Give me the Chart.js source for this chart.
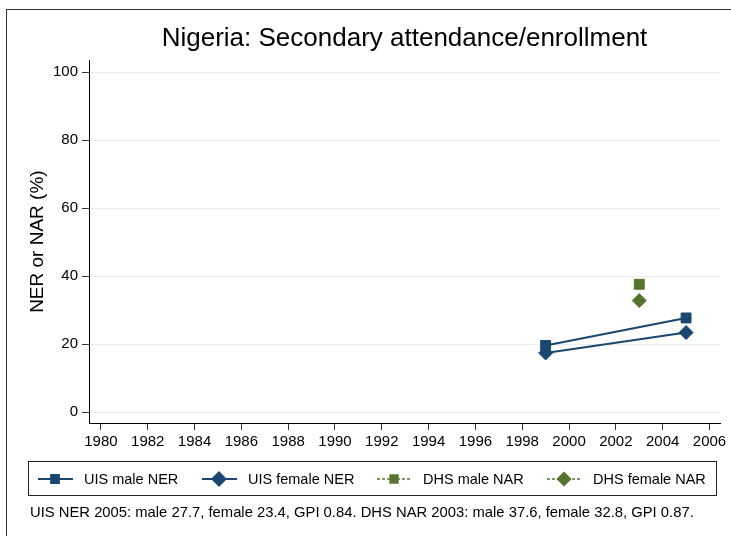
<!DOCTYPE html>
<html>
<head>
<meta charset="utf-8">
<script src="https://cdn.jsdelivr.net/npm/chart.js@4/dist/chart.umd.min.js"></script>
<style>
  html, body { margin: 0; padding: 0; background: #fff; }
  #wrap { width: 731px; height: 536px; position: relative; }
</style>
</head>
<body>
<div id="wrap"><canvas id="myChart" width="731" height="536"></canvas></div>
<script>
// data
const uisYears = [1999, 2005];
const uisMale = [19.6, 27.7];
const uisFemale = [17.4, 23.4];
const dhsYears = [2003];
const dhsMale = [37.6];
const dhsFemale = [32.8];
const xTicks = [1980, 1982, 1984, 1986, 1988, 1990, 1992, 1994, 1996, 1998, 2000, 2002, 2004, 2006];
const yTicks = [0, 20, 40, 60, 80, 100];
const seriesNames = ['UIS male NER', 'UIS female NER', 'DHS male NAR', 'DHS female NAR'];
const noteText = 'UIS NER 2005: male 27.7, female 23.4, GPI 0.84. DHS NAR 2003: male 37.6, female 32.8, GPI 0.87.';

const navy = '#1a476f';
const green = '#55752f';
const FONT = 'Arial, "Liberation Sans", sans-serif';

function pts(xs, ys) { return xs.map((x, i) => ({ x: x, y: ys[i] })); }

// frame, legend box and note
const extras = {
  id: 'extras',
  beforeDraw(chart) {
    const c = chart.ctx;
    c.save();
    c.fillStyle = '#fff';
    c.fillRect(0, 0, chart.width, chart.height);
    c.restore();
  },
  afterDraw(chart) {
    const c = chart.ctx;
    c.save();
    c.strokeStyle = '#333';
    c.lineWidth = 1;
    c.strokeRect(6.5, 9.5, 900, 700);

    // legend box
    c.strokeStyle = '#222';
    c.strokeRect(28.5, 461.5, 688, 34);
    const starts = [38, 202, 377, 547];
    const ly = 479;
    chart.data.datasets.forEach((ds, i) => {
      const x0 = starts[i];
      c.strokeStyle = ds.borderColor;
      c.lineWidth = ds.legendDash ? 1.5 : 2;
      c.setLineDash(ds.legendDash || []);
      c.beginPath();
      c.moveTo(x0, ly);
      c.lineTo(x0 + 35, ly);
      c.stroke();
      c.setLineDash([]);
      c.fillStyle = ds.backgroundColor;
      c.strokeStyle = ds.borderColor;
      Chart.helpers.drawPoint(c, {
        pointStyle: ds.pointStyle,
        radius: ds.pointStyle === 'rect' ? 5.5 : 6.5,
        rotation: 0,
        borderWidth: 1
      }, x0 + 17, ly);
      c.fillStyle = '#000';
      c.font = '14.5px ' + FONT;
      c.textBaseline = 'middle';
      c.textAlign = 'left';
      c.fillText(ds.label, x0 + 46, ly + 1);
    });

    c.fillStyle = '#000';
    c.font = '14.8px ' + FONT;
    c.textBaseline = 'middle';
    c.fillText(noteText, 30, 513);
    c.restore();
  }
};

const ctx = document.getElementById('myChart').getContext('2d');
const myChart = new Chart(ctx, {
  type: 'line',
  data: {
    datasets: [{
      label: seriesNames[0],
      data: pts(uisYears, uisMale),
      borderColor: navy, backgroundColor: navy,
      borderWidth: 2, pointStyle: 'rect', pointRadius: 7, pointBorderWidth: 1
    }, {
      label: seriesNames[1],
      data: pts(uisYears, uisFemale),
      borderColor: navy, backgroundColor: navy,
      borderWidth: 2, pointStyle: 'rectRot', pointRadius: 7, pointBorderWidth: 1
    }, {
      label: seriesNames[2],
      data: pts(dhsYears, dhsMale),
      borderColor: green, backgroundColor: green, showLine: false, legendDash: [3, 2],
      pointStyle: 'rect', pointRadius: 7, pointBorderWidth: 1
    }, {
      label: seriesNames[3],
      data: pts(dhsYears, dhsFemale),
      borderColor: green, backgroundColor: green, showLine: false, legendDash: [3, 2],
      pointStyle: 'rectRot', pointRadius: 7, pointBorderWidth: 1
    }]
  },
  options: {
    responsive: false,
    animation: false,
    layout: { padding: { top: 0, right: 11, bottom: 83, left: 0 } },
    plugins: {
      legend: { display: false },
      tooltip: { enabled: false },
      title: {
        display: true,
        fullSize: false,
        text: 'Nigeria: Secondary attendance/enrollment',
        color: '#000',
        font: { family: FONT, size: 26, weight: 'normal' },
        padding: { top: 23, bottom: 6 }
      }
    },
    scales: {
      x: {
        type: 'linear',
        min: 1979.49,
        max: 2006.45,
        afterBuildTicks: (s) => { s.ticks = xTicks.map(v => ({ value: v })); },
        afterFit: (s) => { s.height = 30; },
        grid: { drawOnChartArea: false, drawTicks: true, tickLength: 7, tickColor: '#333' },
        border: { color: '#000', width: 1 },
        ticks: {
          color: '#000', font: { family: FONT, size: 15 }, padding: 3, maxRotation: 0, autoSkip: false,
          callback: (v) => String(v)
        }
      },
      y: {
        min: -3.2,
        max: 103.5,
        afterBuildTicks: (s) => { s.ticks = yTicks.map(v => ({ value: v })); },
        afterFit: (s) => { s.width = 89; },
        grid: { color: '#e8eef3', lineWidth: 1, tickLength: 7, tickColor: '#333' },
        border: { color: '#000', width: 1 },
        ticks: { color: '#000', font: { family: FONT, size: 15 }, padding: 4 },
        title: {
          display: true,
          text: 'NER or NAR (%)',
          color: '#000',
          font: { family: FONT, size: 19 },
          padding: { top: 26, bottom: 0 }
        }
      }
    }
  },
  plugins: [extras]
});
</script>
</body>
</html>
